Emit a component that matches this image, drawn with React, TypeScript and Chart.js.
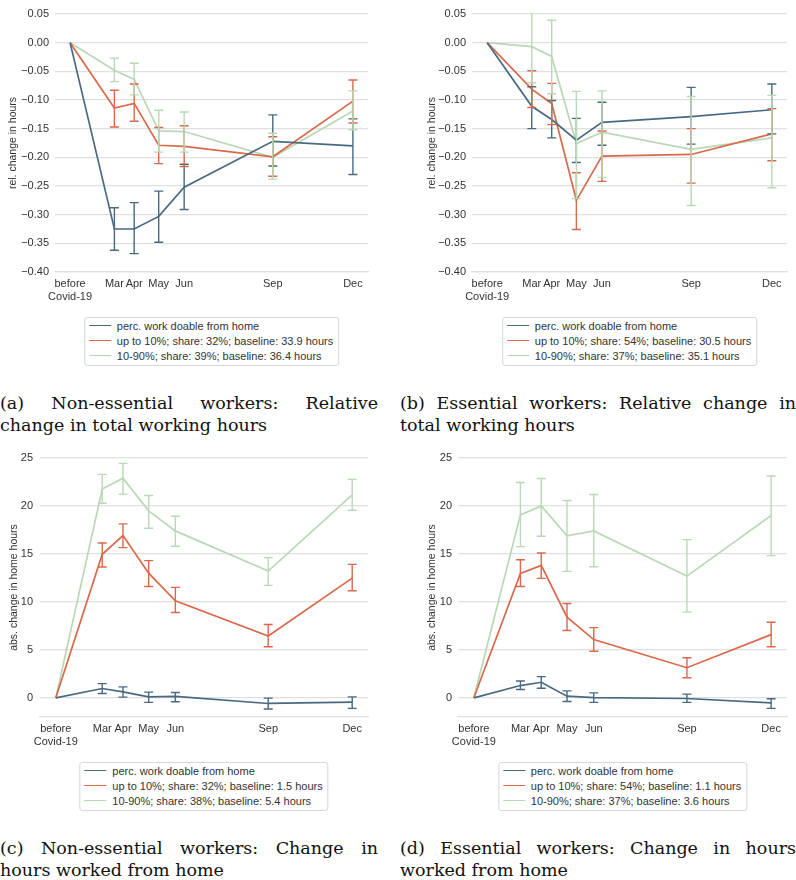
import React, { useEffect, useRef } from "react";
import { Chart, registerables } from "chart.js";

Chart.register(...registerables);

// ---------- data ----------
const xDays = [0, 47, 68, 94, 121, 215, 300];
const xLabels: (string | string[])[] = [["before", "Covid-19"], "Mar", "Apr", "May", "Jun", "Sep", "Dec"];

const yTicksRel = [-0.4, -0.35, -0.3, -0.25, -0.2, -0.15, -0.1, -0.05, 0, 0.05];
const yTicksHome = [0, 5, 10, 15, 20, 25];

const seriesNames = ["perc. work doable from home", "up to 10%", "10-90%"];

// (a) non-essential, relative change
const aBlue = [0, -0.325, -0.325, -0.303, -0.252, -0.172, -0.18];
const aBlueLo = [null, -0.362, -0.368, -0.348, -0.291, -0.215, -0.23];
const aBlueHi = [null, -0.288, -0.279, -0.259, -0.212, -0.126, -0.133];
const aOrange = [0, -0.114, -0.106, -0.179, -0.181, -0.199, -0.102];
const aOrangeLo = [null, -0.147, -0.137, -0.211, -0.216, -0.233, -0.14];
const aOrangeHi = [null, -0.083, -0.072, -0.148, -0.145, -0.164, -0.065];
const aGreen = [0, -0.048, -0.064, -0.154, -0.155, -0.2, -0.119];
const aGreenLo = [null, -0.068, -0.091, -0.191, -0.191, -0.238, -0.152];
const aGreenHi = [null, -0.027, -0.036, -0.118, -0.121, -0.158, -0.084];
const aLegend = [
  "perc. work doable from home",
  "up to 10%; share: 32%; baseline: 33.9 hours",
  "10-90%; share: 39%; baseline: 36.4 hours",
];

// (b) essential, relative change
const bBlue = [0, -0.111, -0.134, -0.17, -0.139, -0.129, -0.117];
const bBlueLo = [null, -0.15, -0.166, -0.209, -0.179, -0.177, -0.159];
const bBlueHi = [null, -0.077, -0.101, -0.132, -0.104, -0.078, -0.072];
const bOrange = [0, -0.081, -0.106, -0.275, -0.198, -0.195, -0.159];
const bOrangeLo = [null, -0.113, -0.143, -0.326, -0.242, -0.245, -0.206];
const bOrangeHi = [null, -0.049, -0.071, -0.227, -0.154, -0.15, -0.115];
const bGreen = [0, -0.007, -0.024, -0.176, -0.156, -0.186, -0.166];
const bGreenLo = [null, -0.07, -0.089, -0.272, -0.235, -0.284, -0.253];
const bGreenHi = [null, 0.056, 0.039, -0.085, -0.084, -0.094, -0.092];
const bLegend = [
  "perc. work doable from home",
  "up to 10%; share: 54%; baseline: 30.5 hours",
  "10-90%; share: 37%; baseline: 35.1 hours",
];

// (c) non-essential, home hours
const cBlue = [0, 0.97, 0.62, 0.1, 0.14, -0.59, -0.45];
const cBlueLo = [null, 0.45, 0.07, -0.48, -0.41, -1.17, -1.1];
const cBlueHi = [null, 1.48, 1.14, 0.59, 0.55, -0.03, 0.1];
const cOrange = [0, 14.96, 16.91, 13.0, 10.11, 6.45, 12.48];
const cOrangeLo = [null, 13.63, 15.66, 11.61, 8.89, 5.33, 11.16];
const cOrangeHi = [null, 16.14, 18.13, 14.3, 11.51, 7.64, 13.91];
const cGreen = [0, 21.76, 22.9, 19.49, 17.4, 13.21, 21.16];
const cGreenLo = [null, 20.29, 21.23, 17.68, 15.8, 11.72, 19.56];
const cGreenHi = [null, 23.29, 24.44, 21.09, 18.93, 14.61, 22.77];
const cLegend = [
  "perc. work doable from home",
  "up to 10%; share: 32%; baseline: 1.5 hours",
  "10-90%; share: 38%; baseline: 5.4 hours",
];

// (d) essential, home hours
const dBlue = [0, 1.28, 1.62, 0.17, 0.03, -0.07, -0.52];
const dBlueLo = [null, 0.86, 1.0, -0.38, -0.48, -0.48, -1.1];
const dBlueHi = [null, 1.76, 2.21, 0.72, 0.52, 0.38, -0.1];
const dOrange = [0, 12.97, 13.81, 8.4, 6.07, 3.14, 6.59];
const dOrangeLo = [null, 11.61, 12.45, 7.01, 4.85, 2.09, 5.33];
const dOrangeHi = [null, 14.4, 15.1, 9.83, 7.32, 4.18, 7.88];
const dGreen = [0, 19.07, 20.01, 16.88, 17.4, 12.69, 19.0];
const dGreenLo = [null, 15.76, 16.84, 13.18, 13.67, 8.93, 14.82];
const dGreenHi = [null, 22.45, 22.87, 20.57, 21.2, 16.49, 23.12];
const dLegend = [
  "perc. work doable from home",
  "up to 10%; share: 54%; baseline: 1.1 hours",
  "10-90%; share: 37%; baseline: 3.6 hours",
];

const captions = [
  ["(a) Non-essential workers: Relative", "change in total working hours"],
  ["(b) Essential workers: Relative change in", "total working hours"],
  ["(c) Non-essential workers: Change in", "hours worked from home"],
  ["(d) Essential workers: Change in hours", "worked from home"],
];

// ---------- style ----------
const COLORS = ["#486a80", "#d9694b", "#b9d8b5"];
const GRID = "#e0e0e0";
const TEXT = "#333333";
const FONT = "'Liberation Sans', Arial, sans-serif";

const errorBarPlugin = {
  id: "errbars",
  afterDatasetsDraw(chart: any) {
    const { ctx, chartArea, scales } = chart;
    const xs = scales.x;
    const ys = scales.y;
    ctx.save();
    ctx.beginPath();
    ctx.rect(chartArea.left, chartArea.top - 1, chartArea.right - chartArea.left, chartArea.bottom - chartArea.top + 2);
    ctx.clip();
    chart.data.datasets.forEach((ds: any) => {
      ctx.strokeStyle = ds.borderColor;
      ctx.lineWidth = 1.4;
      ds.data.forEach((pt: any, i: number) => {
        const lo = ds.errLo[i];
        const hi = ds.errHi[i];
        if (lo == null || hi == null) return;
        const px = xs.getPixelForValue(pt.x);
        const y1 = ys.getPixelForValue(lo);
        const y2 = ys.getPixelForValue(hi);
        ctx.beginPath();
        ctx.moveTo(px, y1);
        ctx.lineTo(px, y2);
        ctx.moveTo(px - 4.5, y1);
        ctx.lineTo(px + 4.5, y1);
        ctx.moveTo(px - 4.5, y2);
        ctx.lineTo(px + 4.5, y2);
        ctx.stroke();
      });
    });
    ctx.restore();
  },
};

type PanelCfg = {
  left: number;
  top: number;
  w: number;
  h: number;
  yWidth: number;
  padRight: number;
  padTop: number;
  xHeight: number;
  titlePad: number;
  tickPad: number;
  yTitle: string;
  yMin: number;
  yMax: number;
  yTicks: number[];
  decimals: number;
  series: { v: number[]; lo: (number | null)[]; hi: (number | null)[] }[];
  legend: string[];
  legendCenter: number;
  legendTop: number;
  caption: string[];
  capLeft: number;
  capWidth: number;
  capTop: number;
};

function Panel({ cfg }: { cfg: PanelCfg }) {
  const ref = useRef<HTMLCanvasElement>(null);
  useEffect(() => {
    const fmt = (v: number) => {
      const s = Number(v).toFixed(cfg.decimals);
      return s.startsWith("-") ? "\u2212" + s.slice(1) : s;
    };
    const chart = new Chart(ref.current as HTMLCanvasElement, {
      type: "line",
      data: {
        datasets: cfg.series.map((s, k) => ({
          label: seriesNames[k],
          data: s.v.map((y, i) => ({ x: xDays[i], y })),
          errLo: s.lo,
          errHi: s.hi,
          borderColor: COLORS[k],
          backgroundColor: COLORS[k],
          borderWidth: 1.7,
          pointRadius: 0,
          tension: 0,
          fill: false,
        })) as any,
      },
      options: {
        animation: false,
        responsive: false,
        devicePixelRatio: 1,
        layout: { padding: { left: 0, right: cfg.padRight, top: cfg.padTop, bottom: 0 } },
        plugins: { legend: { display: false }, tooltip: { enabled: false } },
        scales: {
          x: {
            type: "linear",
            min: -16,
            max: 316,
            grid: { display: false, drawTicks: false },
            border: { display: true, color: GRID, width: 1.3 },
            afterBuildTicks: (s: any) => {
              s.ticks = xDays.map((v) => ({ value: v }));
            },
            afterFit: (s: any) => {
              s.height = cfg.xHeight;
            },
            ticks: {
              autoSkip: false,
              maxRotation: 0,
              padding: 5,
              color: TEXT,
              font: { family: FONT, size: 11 },
              callback: (v: any) => {
                const i = xDays.indexOf(Number(v));
                return i >= 0 ? (xLabels[i] as any) : "";
              },
            },
          },
          y: {
            type: "linear",
            min: cfg.yMin,
            max: cfg.yMax,
            grid: { color: GRID, lineWidth: 1.3, drawTicks: false },
            border: { display: false },
            afterBuildTicks: (s: any) => {
              s.ticks = cfg.yTicks.map((v) => ({ value: v }));
            },
            afterFit: (s: any) => {
              s.width = cfg.yWidth;
            },
            ticks: {
              padding: cfg.tickPad,
              color: TEXT,
              font: { family: FONT, size: 11 },
              callback: (v: any) => fmt(Number(v)),
            },
            title: {
              display: true,
              text: cfg.yTitle,
              color: TEXT,
              font: { family: FONT, size: 10.5 },
              padding: { top: cfg.titlePad, bottom: 0 },
            },
          },
        },
      } as any,
      plugins: [errorBarPlugin],
    });
    return () => chart.destroy();
  }, []);

  return (
    <>
      <canvas
        ref={ref}
        width={cfg.w}
        height={cfg.h}
        style={{ position: "absolute", left: cfg.left, top: cfg.top, width: cfg.w, height: cfg.h }}
      />
      <div
        style={{
          position: "absolute",
          left: cfg.legendCenter,
          top: cfg.legendTop,
          transform: "translateX(-50%)",
          border: "1px solid #d6d6d6",
          borderRadius: 3,
          padding: "0px 5px 2px 4px",
          background: "#fff",
          fontFamily: FONT,
          fontSize: 11,
          color: TEXT,
          whiteSpace: "nowrap",
        }}
      >
        {cfg.legend.map((t, k) => (
          <div key={k} style={{ display: "flex", alignItems: "center", height: 15 }}>
            <span
              style={{ display: "inline-block", width: 22, height: 0, borderTop: `1.7px solid ${COLORS[k]}`, marginRight: 6 }}
            />
            <span>{t}</span>
          </div>
        ))}
      </div>
      <div
        style={{
          position: "absolute",
          left: cfg.capLeft,
          top: cfg.capTop,
          width: cfg.capWidth,
          fontFamily: "'DejaVu Serif', serif",
          fontSize: 17.5,
          lineHeight: "22px",
          color: "#111",
        }}
      >
        <div style={{ textAlign: "justify", textAlignLast: "justify" as any }}>{cfg.caption[0]}</div>
        <div style={{ textAlign: "left" }}>{cfg.caption[1]}</div>
      </div>
    </>
  );
}

const panels: PanelCfg[] = [
  {
    left: 0, top: 0, w: 400, h: 312, yWidth: 55, padRight: 32, padTop: 14, xHeight: 40,
    titlePad: 7, tickPad: 6, yTitle: "rel. change in hours", yMin: -0.4, yMax: 0.05, yTicks: yTicksRel, decimals: 2,
    series: [
      { v: aBlue, lo: aBlueLo, hi: aBlueHi },
      { v: aOrange, lo: aOrangeLo, hi: aOrangeHi },
      { v: aGreen, lo: aGreenLo, hi: aGreenHi },
    ],
    legend: aLegend, legendCenter: 211.5, legendTop: 317,
    caption: captions[0], capLeft: 0, capWidth: 378, capTop: 392,
  },
  {
    left: 400, top: 0, w: 396, h: 312, yWidth: 72, padRight: 9, padTop: 14, xHeight: 40,
    titlePad: 26, tickPad: 6, yTitle: "rel. change in hours", yMin: -0.4, yMax: 0.05, yTicks: yTicksRel, decimals: 2,
    series: [
      { v: bBlue, lo: bBlueLo, hi: bBlueHi },
      { v: bOrange, lo: bOrangeLo, hi: bOrangeHi },
      { v: bGreen, lo: bGreenLo, hi: bGreenHi },
    ],
    legend: bLegend, legendCenter: 629.5, legendTop: 317,
    caption: captions[1], capLeft: 400, capWidth: 396, capTop: 392,
  },
  {
    left: 0, top: 440, w: 400, h: 317, yWidth: 40, padRight: 32, padTop: 18, xHeight: 40,
    titlePad: 8, tickPad: 7, yTitle: "abs. change in home hours", yMin: -2, yMax: 25, yTicks: yTicksHome, decimals: 0,
    series: [
      { v: cBlue, lo: cBlueLo, hi: cBlueHi },
      { v: cOrange, lo: cOrangeLo, hi: cOrangeHi },
      { v: cGreen, lo: cGreenLo, hi: cGreenHi },
    ],
    legend: cLegend, legendCenter: 204, legendTop: 762,
    caption: captions[2], capLeft: 0, capWidth: 378, capTop: 837,
  },
  {
    left: 400, top: 440, w: 396, h: 317, yWidth: 58, padRight: 9, padTop: 18, xHeight: 40,
    titlePad: 26, tickPad: 6, yTitle: "abs. change in home hours", yMin: -2, yMax: 25, yTicks: yTicksHome, decimals: 0,
    series: [
      { v: dBlue, lo: dBlueLo, hi: dBlueHi },
      { v: dOrange, lo: dOrangeLo, hi: dOrangeHi },
      { v: dGreen, lo: dGreenLo, hi: dGreenHi },
    ],
    legend: dLegend, legendCenter: 622.5, legendTop: 762,
    caption: captions[3], capLeft: 400, capWidth: 396, capTop: 837,
  },
];

export default function App() {
  return (
    <div style={{ position: "absolute", left: 0, top: 0, width: 796, height: 880, background: "#fff", overflow: "hidden" }}>
      {panels.map((p, i) => (
        <Panel key={i} cfg={p} />
      ))}
    </div>
  );
}
